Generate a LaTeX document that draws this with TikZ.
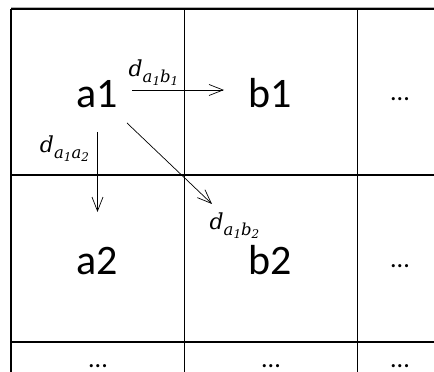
\documentclass[tikz,border=0pt]{standalone}
\usepackage{fontspec}
\setmainfont{Carlito}
\newfontfamily\labfont{DejaVu Serif}[ItalicFont={DejaVu Serif Italic}]
\usetikzlibrary{arrows.meta}
\newcommand{\dlabel}[4]{{\labfont\itshape\fontsize{22}{24}\selectfont d}\raisebox{-5.5pt}{\labfont\itshape\fontsize{16.5}{17}\selectfont #1\raisebox{-3pt}{\fontsize{12}{12}\selectfont #2}#3\raisebox{-3pt}{\fontsize{12}{12}\selectfont #4}}}
\tikzset{
  big/.style={font=\fontsize{42}{42}\selectfont, inner sep=0pt, anchor=base},
  ell/.style={font=\fontsize{26}{26}\selectfont, inner sep=0pt, anchor=base},
  lab/.style={inner sep=0pt},
  arr/.style={-{Straight Barb[length=14pt,width=11pt]}, line width=0.7pt},
  thick line/.style={line width=1.3pt},
  thin line/.style={line width=0.8pt}
}
\begin{document}
\begin{tikzpicture}[x=1pt,y=1pt]
\useasboundingbox (0,0) rectangle (434,372);
\fill[white] (0,0) rectangle (434,372);
% grid
\draw[gray!60, line width=0.8pt] (11,365) -- (434,365);
\draw[thick line] (11,363) -- (434,363);
\draw[thick line] (11,197) -- (434,197);
\draw[thick line] (11,30) -- (434,30);
\draw[thick line] (11,363) -- (11,0);
\draw[thin line] (184,363) -- (184,0);
\draw[thin line] (357,363) -- (357,0);
% cell texts
\node[big] (a1) at (97.5,264) {a1};
\node[big] (b1) at (270.5,264) {b1};
\node[big] (a2) at (97.5,97) {a2};
\node[big] (b2) at (270.5,97) {b2};
\node[ell] (e1) at (400,271) {...};
\node[ell] (e2) at (400,104) {...};
\node[ell] (e3) at (98,4) {...};
\node[ell] (e4) at (271,4) {...};
\node[ell] (e5) at (400,4) {...};
% arrows
\draw[arr] ([shift={(34.5,18)}]a1.base) -- ([shift={(-46.5,18)}]b1.base);
\draw[arr] ([shift={(0,-24)}]a1.base) -- ([shift={(0,63)}]a2.base);
\draw[arr] ([shift={(29.5,-15)}]a1.base) -- ([shift={(-58.5,71)}]b2.base);
% labels
\node[lab] (l1) at (153.5,299.5) {\dlabel{a}{1}{b}{1}};
\node[lab] (l2) at (64.5,223.5) {\dlabel{a}{1}{a}{2}};
\node[lab] (l3) at (234.5,146.5) {\dlabel{a}{1}{b}{2}};
\end{tikzpicture}
\end{document}
